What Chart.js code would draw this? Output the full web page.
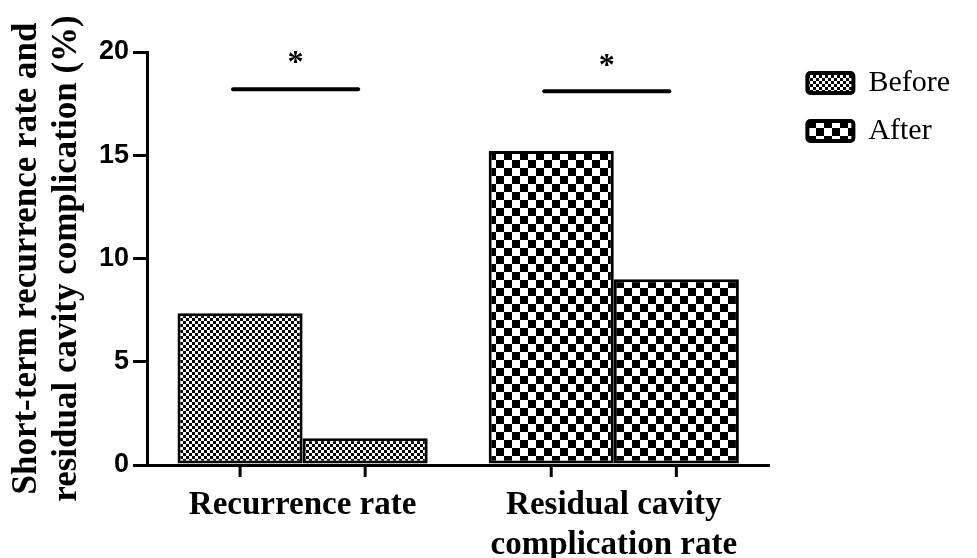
<!DOCTYPE html>
<html>
<head>
<meta charset="utf-8">
<script src="https://cdn.jsdelivr.net/npm/chart.js@4.4.1/dist/chart.umd.min.js"></script>
<style>
html,body{margin:0;padding:0;background:#fff;}
#wrap{width:977px;height:558px;position:relative;}
</style>
</head>
<body>
<div id="wrap"><canvas id="c" width="977" height="558"></canvas></div>
<script>
// ---- data ----
const categories = ['Recurrence rate', ['Residual cavity', 'complication rate']];
const seriesNames = ['Before', 'After'];
const beforeValues = [7.35, 15.2];
const afterValues = [1.3, 9.0];
const yTicks = [0, 5, 10, 15, 20];
const sigHeights = [18.2, 18.1];
const sigLabels = ['*', '*'];
const yTitle = ['Short-term recurrence rate and', 'residual cavity complication (%)'];

// ---- patterns ----
function makeChecker(cell) {
  const c = document.createElement('canvas');
  c.width = cell * 2; c.height = cell * 2;
  const g = c.getContext('2d');
  g.fillStyle = '#fff'; g.fillRect(0, 0, c.width, c.height);
  g.fillStyle = '#000';
  g.fillRect(0, 0, cell, cell);
  g.fillRect(cell, cell, cell, cell);
  return g.createPattern(c, 'repeat');
}
const canvas = document.getElementById('c');
const finePattern = makeChecker(3);
const coarsePattern = makeChecker(8);
const categoryFills = [finePattern, coarsePattern];
const legendFills = [finePattern, coarsePattern];

const annotPlugin = {
  id: 'annot',
  beforeDraw(chart) {
    const c = chart.ctx;
    c.save(); c.fillStyle = '#fff'; c.fillRect(0, 0, chart.width, chart.height); c.restore();
  },
  afterLayout(chart) {
    const lg = chart.legend;
    if (lg) { lg.left += 20; lg.right += 20; lg.top -= 2; lg.bottom -= 2; }
  },
  afterDatasetsDraw(chart) {
    const c = chart.ctx, xs = chart.scales.x, ys = chart.scales.y;
    const metas = [chart.getDatasetMeta(0), chart.getDatasetMeta(1)];
    c.save();
    c.strokeStyle = '#000';
    c.lineWidth = 3;
    metas.forEach(m => m.data.forEach(b => {
      c.beginPath(); c.moveTo(b.x, xs.top); c.lineTo(b.x, xs.top + 12); c.stroke();
    }));
    c.lineWidth = 4; c.lineCap = 'round';
    c.fillStyle = '#000';
    c.font = 'bold 32px "Liberation Serif"';
    c.textAlign = 'center'; c.textBaseline = 'middle';
    sigHeights.forEach((h, i) => {
      const x1 = metas[0].data[i].x - 7, x2 = metas[1].data[i].x - 7;
      const yy = ys.getPixelForValue(h);
      c.beginPath(); c.moveTo(x1, yy); c.lineTo(x2, yy); c.stroke();
      c.fillText(sigLabels[i], (x1 + x2) / 2, yy - 25);
    });
    c.restore();
  }
};

new Chart(canvas, {
  type: 'bar',
  data: {
    labels: categories,
    datasets: [
      { label: seriesNames[0], data: beforeValues, backgroundColor: categoryFills, borderColor: '#000', borderWidth: 3, borderSkipped: false },
      { label: seriesNames[1], data: afterValues, backgroundColor: categoryFills, borderColor: '#000', borderWidth: 3, borderSkipped: false }
    ]
  },
  options: {
    responsive: false,
    animation: false,
    devicePixelRatio: 1,
    categoryPercentage: 0.804,
    barPercentage: 1.0,
    layout: { padding: { left: 0, top: 52, right: 37, bottom: 0 } },
    plugins: {
      tooltip: { enabled: false },
      legend: {
        position: 'right',
        align: 'start',
        labels: {
          boxWidth: 46,
          boxHeight: 20,
          padding: 18,
          color: '#000',
          font: { family: '"Liberation Serif"', size: 30, lineHeight: 1.2 },
          generateLabels(chart) {
            return seriesNames.map((n, i) => ({
              text: n, fillStyle: legendFills[i], strokeStyle: '#000', lineWidth: 4,
              fontColor: '#000', datasetIndex: i, hidden: false, borderRadius: 3
            }));
          }
        }
      }
    },
    scales: {
      x: {
        grid: { display: false, drawTicks: false },
        border: { display: true, color: '#000', width: 3 },
        ticks: {
          color: '#000', padding: 20, maxRotation: 0, autoSkip: false,
          font: { family: '"Liberation Serif"', size: 33, weight: 'bold', lineHeight: 1.22 }
        },
        afterFit(s) { s.height = 93; }
      },
      y: {
        min: 0, max: 20,
        afterBuildTicks(s) { s.ticks = yTicks.map(v => ({ value: v })); },
        grid: { drawOnChartArea: false, color: '#000', lineWidth: 3, tickLength: 14 },
        border: { display: true, color: '#000', width: 3 },
        ticks: {
          color: '#000', padding: 4,
          font: { family: '"Liberation Sans"', size: 27, weight: 'bold' }
        },
        title: {
          display: true, text: yTitle, color: '#000',
          padding: { top: 6, bottom: 0 },
          font: { family: '"Liberation Serif"', size: 35, weight: 'bold', lineHeight: 1.17 }
        },
        afterFit(s) { s.width = 147; }
      }
    }
  },
  plugins: [annotPlugin]
});
</script>
</body>
</html>
